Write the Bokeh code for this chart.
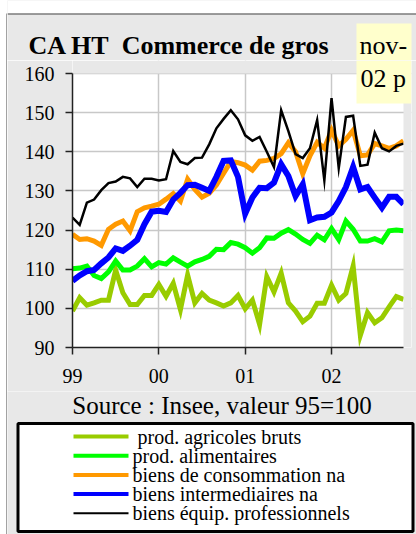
from bokeh.plotting import figure
from bokeh.layouts import column, row
from bokeh.models import Range1d, FixedTicker, ColumnDataSource
from bokeh.core.properties import value
from bokeh.embed import file_html
from bokeh.resources import INLINE

# ---------------- data (monthly, Jan 1999 .. Nov 2002) ----------------
months = list(range(47))
year_ticks = [0, 12, 24, 36]
year_labels = ["99", "00", "01", "02"]
y_ticks = [90, 100, 110, 120, 130, 140, 150, 160]

agricoles = [99.3, 102.7, 100.8, 101.4, 102.1, 102.1, 109.8, 104.0, 101.0, 101.0,
             103.3, 103.3, 106.1, 103.1, 106.4, 99.7, 108.5, 101.4, 103.8, 102.1,
             101.4, 100.6, 101.4, 103.3, 99.9, 102.1, 95.9, 108.1, 104.2, 109.0,
             101.4, 99.3, 96.6, 98.0, 101.3, 101.3, 105.9, 102.1, 103.8, 110.8,
             93.1, 98.9, 96.3, 97.6, 100.4, 103.0, 102.3]
alimentaires = [110.1, 110.3, 110.8, 108.4, 107.6, 109.3, 112.1, 109.8, 109.8, 110.8,
                112.7, 110.6, 111.7, 111.3, 112.9, 111.8, 110.8, 111.9, 112.5, 113.3,
                115.1, 115.0, 116.8, 116.4, 115.5, 114.1, 115.5, 118.0, 117.9, 119.2,
                120.1, 119.0, 117.6, 116.6, 118.7, 117.5, 120.4, 117.6, 122.3, 120.2,
                117.2, 117.2, 117.8, 117.0, 119.8, 120.0, 119.8]
consommation = [118.9, 117.6, 117.8, 117.2, 116.1, 120.2, 121.5, 122.3, 119.8, 124.7,
                125.7, 126.1, 126.6, 127.9, 129.3, 127.4, 133.0, 130.4, 128.4, 129.4,
                131.5, 134.5, 137.5, 137.2, 136.6, 135.3, 137.6, 137.8, 138.3, 139.5,
                142.3, 140.0, 134.4, 139.0, 142.4, 140.9, 145.5, 141.5, 143.2, 145.5,
                139.0, 139.2, 142.1, 141.5, 140.9, 141.5, 142.8]
intermediaires = [107.0, 108.4, 109.5, 109.8, 111.5, 113.0, 115.3, 114.7, 116.0, 117.5,
                  121.5, 124.7, 124.9, 124.6, 127.8, 129.5, 131.5, 131.6, 130.8, 130.0,
                  133.6, 137.7, 137.8, 133.6, 124.2, 128.3, 130.8, 130.7, 132.1, 136.8,
                  133.8, 128.7, 131.7, 122.5, 123.2, 123.4, 124.5, 127.4, 131.0, 136.1,
                  130.4, 131.0, 128.3, 125.7, 128.5, 128.5, 126.6]
equipement = [123.2, 121.3, 127.0, 127.8, 130.2, 132.0, 132.4, 133.6, 133.2, 131.0,
              133.1, 133.1, 132.7, 133.0, 140.2, 137.4, 136.8, 138.4, 138.5, 141.9,
              146.0, 148.4, 150.6, 148.3, 144.2, 142.8, 143.8, 140.0, 136.1, 150.6,
              145.3, 139.4, 138.4, 140.9, 148.1, 132.7, 153.7, 135.8, 148.9, 149.2,
              136.4, 136.7, 144.9, 140.9, 140.1, 141.5, 142.1]

series_names = ["prod. agricoles bruts", "prod. alimentaires", "biens de consommation na",
                "biens intermediaires na", "biens équip. professionnels"]
series_values = [agricoles, alimentaires, consommation, intermediaires, equipement]
series_colors = ["#99cc00", "#00ff00", "#ff9900", "#0000ff", "#000000"]
series_widths = [5, 5, 5, 6, 2.5]
legend_widths = [4, 4, 4, 4, 2]

title_text = "CA HT\u00a0 Commerce de gros"
date_lines = ["nov-", "02 p"]
source_text = "Source : Insee, valeur 95=100"

FONT = "Liberation Serif"
GRAY = "#e8e8e8"
YELLOW = "#ffffcc"
W, H = 416, 534
STRIP = 7                      # white margin + dark frame line on the left

# page-pixel layout of the main plot area
PLOT_L, PLOT_R, PLOT_T, PLOT_B = 72, 403, 73, 347
X0, X1, Y0, Y1 = 0, 46, 90, 160
PXM = (PLOT_R - PLOT_L) / (X1 - X0)      # pixels per month
PXV = (PLOT_B - PLOT_T) / (Y1 - Y0)      # pixels per index point
MAIN_TOP, MAIN_BOT = 60, 391
FRAME_R = 411


def dx(px):
    return X0 + (px - PLOT_L) / PXM


def dy(py):
    return Y0 + (PLOT_B - py) / PXV


def mid(baseline, size):
    # vertical centre of a text line whose baseline is at `baseline`
    return baseline - 0.34 * size


def no_align(f):
    if "frame_align" in f.properties():
        f.frame_align = False


def blank(width, height, xr, yr):
    f = figure(width=width, height=height, x_range=xr, y_range=yr,
               output_backend="svg", toolbar_location=None,
               x_axis_location=None, y_axis_location=None, min_border=0)
    no_align(f)
    f.grid.visible = False
    f.outline_line_color = None
    f.background_fill_color = GRAY
    f.border_fill_color = GRAY
    return f


# ---------------- left strip ----------------
strip = blank(STRIP, H, Range1d(0, STRIP), Range1d(H, 0))
strip.background_fill_color = "white"
strip.border_fill_color = "white"
strip.line([6.5, 6.5], [13, H], line_color="#444444", line_width=1)

CW = W - STRIP

# ---------------- header (title + top of date box) ----------------
head = blank(CW, MAIN_TOP, Range1d(STRIP, W), Range1d(MAIN_TOP, 0))
head.quad(left=[STRIP], right=[W], top=[0], bottom=[13], fill_color="white", line_color=None)
head.line([STRIP, W], [13.5, 13.5], line_color="#444444", line_width=1)
head.quad(left=[356], right=[411], top=[23], bottom=[MAIN_TOP], fill_color=YELLOW, line_color=None)
head.text(x=[28], y=[mid(54.3, 26)], text=[title_text], text_font=value(FONT),
          text_font_size="26px", text_font_style="bold", text_baseline="middle",
          text_align="left", text_color="black")
head.text(x=[359], y=[mid(54.3, 26)], text=[date_lines[0]], text_font=value(FONT),
          text_font_size="26px", text_baseline="middle", text_align="left", text_color="black")

# ---------------- main chart ----------------
y_top = dy(MAIN_TOP)
x_right = dx(FRAME_R)
p = figure(width=CW, height=MAIN_BOT - MAIN_TOP,
           x_range=Range1d(X0, x_right), y_range=Range1d(Y0, y_top),
           output_backend="svg", toolbar_location=None,
           min_border_left=PLOT_L - STRIP, min_border_right=W - FRAME_R,
           min_border_top=0, min_border_bottom=MAIN_BOT - PLOT_B)
no_align(p)
p.background_fill_color = "white"
p.border_fill_color = GRAY
p.outline_line_color = None

for ax in (p.xaxis[0], p.yaxis[0]):
    ax.axis_line_color = "#222222"
    ax.axis_line_width = 1.5
    ax.major_tick_line_color = "#222222"
    ax.major_tick_line_width = 1.5
    ax.major_tick_out = 7
    ax.major_tick_in = 0
    ax.minor_tick_out = 0
    ax.minor_tick_in = 0
    ax.major_label_text_font = FONT
    ax.major_label_text_font_size = "20px"
    ax.major_label_text_color = "black"

p.yaxis.ticker = FixedTicker(ticks=y_ticks)
p.yaxis.bounds = (Y0, Y1)
p.yaxis.major_label_standoff = 11
p.xaxis.ticker = FixedTicker(ticks=year_ticks)
p.xaxis.bounds = (X0, X1)
p.xaxis.major_label_overrides = {t: l for t, l in zip(year_ticks, year_labels)}
p.xaxis.major_label_standoff = 14

p.xgrid.ticker = FixedTicker(ticks=year_ticks)
p.ygrid.ticker = FixedTicker(ticks=y_ticks)
for g in (p.xgrid[0], p.ygrid[0]):
    g.grid_line_color = "#c8c8c8"
    g.grid_line_width = 1.5

for name, vals, col, w in zip(series_names, series_values, series_colors, series_widths):
    src = ColumnDataSource(dict(x=months, y=vals))
    p.line("x", "y", source=src, line_color=col, line_width=w, line_join="miter")

# gray margins inside the extended frame, and lower part of the date box
p.quad(left=[X0], right=[x_right], bottom=[Y1], top=[y_top], fill_color=GRAY, line_color=None)
p.quad(left=[X1], right=[x_right], bottom=[Y0], top=[Y1], fill_color=GRAY, line_color=None)
p.quad(left=[dx(356)], right=[x_right], bottom=[dy(103)], top=[y_top],
       fill_color=YELLOW, line_color=None)
p.text(x=[dx(360)], y=[dy(mid(86.7, 26))], text=[date_lines[1]], text_font=value(FONT),
       text_font_size="26px", text_baseline="middle", text_align="left", text_color="black")

# ---------------- footer (source + legend box) ----------------
foot = blank(CW, H - MAIN_BOT, Range1d(STRIP, W), Range1d(H, MAIN_BOT))
foot.text(x=[221.5], y=[405.2], text=[source_text], text_font=value(FONT),
          text_font_size="25px", text_baseline="middle", text_align="center",
          text_color="black")
foot.quad(left=[17.5], right=[412.5], top=[423], bottom=[531], fill_color="white",
          line_color="black", line_width=3)
for k, (col, w) in enumerate(zip(series_colors, legend_widths)):
    ly = 436 + 19.2 * k
    foot.line([73, 128], [ly, ly], line_color=col, line_width=w)
text_x = [137, 132, 132, 132, 132]
text_y = [mid(443.5 + 19.0 * k, 20) for k in range(5)]
foot.text(x=text_x, y=text_y, text=series_names, text_font=value(FONT),
          text_font_size="20px", text_baseline="middle", text_align="left",
          text_color="black")

layout = row(strip, column(head, p, foot, spacing=0), spacing=0)
open("out.html", "w").write(file_html(layout, INLINE))
